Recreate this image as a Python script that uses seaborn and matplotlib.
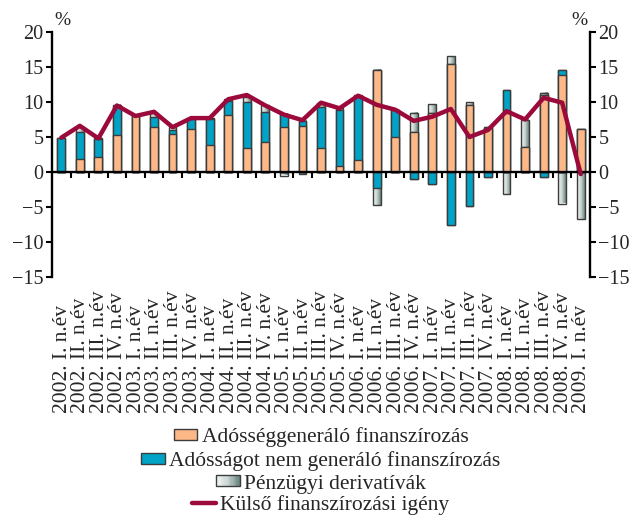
import numpy as np
import pandas as pd
import matplotlib
matplotlib.use("Agg")
import matplotlib.pyplot as plt
import matplotlib.transforms as mtransforms
from matplotlib.patches import Rectangle
from matplotlib.lines import Line2D
from matplotlib.legend_handler import HandlerBase
from matplotlib.colors import LinearSegmentedColormap
import seaborn as sns

# Quarterly categories
negyedevek = [
    "2002. I. n.év", "2002. II. n.év", "2002. III. n.év", "2002. IV. n.év",
    "2003. I. n.év", "2003. II. n.év", "2003. III. n.év", "2003. IV. n.év",
    "2004. I. n.év", "2004. II. n.év", "2004. III. n.év", "2004. IV. n.év",
    "2005. I. n.év", "2005. II. n.év", "2005. III. n.év", "2005. IV. n.év",
    "2006. I. n.év", "2006. II. n.év", "2006. III. n.év", "2006. IV. n.év",
    "2007. I. n.év", "2007. II. n.év", "2007. III. n.év", "2007. IV. n.év",
    "2008. I. n.év", "2008. II. n.év", "2008. III. n.év", "2008. IV. n.év",
    "2009. I. n.év",
]

# Components of financing (% of GDP)
adossaggeneralo = [0.0, 1.9, 2.1, 5.3, 8.0, 6.4, 5.5, 6.1, 3.9, 8.2, 3.5, 4.3,
                   6.4, 6.6, 3.5, 0.9, 1.7, 14.6, 5.0, 5.7, 8.4, 15.4, 9.6, 6.3,
                   8.5, 3.6, 11.0, 13.8, 6.1]
nem_generalo = [4.8, 3.8, 2.6, 4.0, 0.0, 1.5, 0.5, 1.5, 3.7, 2.0, 6.5, 4.3,
                1.9, 0.7, 5.8, 8.0, 9.2, -2.3, 3.9, -1.0, -1.7, -7.6, -4.9, -0.7,
                3.2, 0.0, -0.7, 0.7, 0.0]
derivativak = [0.0, 0.8, 0.2, 0.3, 0.0, 0.6, 0.4, 0.1, 0.1, 0.2, 0.7, 0.9,
               -0.5, -0.3, 0.6, 0.2, 0.1, -2.4, 0.0, 2.8, 1.3, 1.1, 0.4, 0.2,
               -3.1, 3.9, 0.3, -4.5, -6.7]
kulso_igeny = [4.9, 6.6, 4.8, 9.5, 8.0, 8.6, 6.4, 7.7, 7.7, 10.4, 11.0, 9.5,
               8.2, 7.4, 9.9, 9.1, 10.9, 9.6, 8.9, 7.3, 7.9, 9.0, 5.0, 6.0,
               8.7, 7.5, 10.6, 9.9, -0.3]

ORANGE = "#FDB888"
BLUE = "#00A2C6"
LINE = "#9B0A3B"
EDGE = "#3C3C3C"
grad_cmap = LinearSegmentedColormap.from_list("deriv", ["#F4F7F6", "#C9D4D2", "#6A8580"])

sns.set_style("white")
plt.rcParams["font.family"] = ["Liberation Serif", "DejaVu Serif"]
plt.rcParams["axes.unicode_minus"] = True

o = np.clip(np.array(adossaggeneralo), 0, None)
b = np.array(nem_generalo)
g = np.array(derivativak)
bp, bn = np.clip(b, 0, None), np.clip(b, None, 0)
gp, gn = np.clip(g, 0, None), np.clip(g, None, 0)

df = pd.DataFrame({
    "q": negyedevek,
    "grey_pos": o + bp + gp,
    "blue_pos": o + bp,
    "orange": o,
    "grey_neg": bn + gn,
    "blue_neg": bn,
})

fig = plt.figure(figsize=(6.37, 5.16), dpi=100)
ax = fig.add_axes([52 / 637, 1 - 277 / 516, (590 - 52) / 637, 245 / 516])

W = 0.42
common = dict(data=df, x="q", order=negyedevek, width=W, errorbar=None,
              saturation=1, edgecolor=EDGE, linewidth=1.0, ax=ax)

# Derivative layers drawn first (outline only, gradient fill added below)
grey_patches = []
for col in ["grey_pos", "grey_neg"]:
    n0 = len(ax.patches)
    sns.barplot(y=col, color="#BBBBBB", zorder=3, **common)
    grey_patches += ax.patches[n0:]
for p in grey_patches:
    p.set_facecolor("none")
    h = p.get_height()
    if abs(h) > 1e-9:
        x0 = p.get_x()
        y0 = p.get_y()
        grad = np.linspace(0, 1, 64).reshape(1, -1)
        ax.imshow(grad, cmap=grad_cmap, aspect="auto", interpolation="bilinear",
                  extent=[x0, x0 + p.get_width(), min(y0, y0 + h), max(y0, y0 + h)],
                  zorder=2.5)

sns.barplot(y="blue_pos", color=BLUE, zorder=4, **common)
sns.barplot(y="blue_neg", color=BLUE, zorder=4, **common)
sns.barplot(y="orange", color=ORANGE, zorder=5, **common)

sns.lineplot(x=np.arange(len(negyedevek)), y=kulso_igeny, color=LINE, lw=3.2,
             sort=False, ax=ax, zorder=6)

ax.set_xlim(-0.5, len(negyedevek) - 0.5)
ax.set_ylim(-15, 20)
ax.set_xlabel("")
ax.set_ylabel("")

# Axes: zero line with ticks between quarters, y axis on both sides
for s in ["left", "right", "bottom"]:
    ax.spines[s].set_visible(True)
    ax.spines[s].set_color("black")
    ax.spines[s].set_linewidth(1.7)
ax.spines["top"].set_visible(False)
ax.spines["bottom"].set_position(("data", 0))
ax.spines["bottom"].set_zorder(5.5)

ax.set_xticks(np.arange(0.5, len(negyedevek) - 1, 1))
ax.set_xticklabels([])
ax.tick_params(axis="x", bottom=True, direction="out", length=4, width=1.5,
               color="black", labelbottom=False)
ax.set_yticks(np.arange(-15, 21, 5))
ax.tick_params(axis="y", left=True, right=True, labelleft=True, labelright=True,
               direction="out", length=4, width=1.5, color="black",
               labelsize=14.5, pad=2)

ax.text(0.004, 1.012, "%", transform=ax.transAxes, ha="left", va="bottom", fontsize=14)
ax.text(0.996, 1.012, "%", transform=ax.transAxes, ha="right", va="bottom", fontsize=14)

# Quarter labels, read bottom-to-top, starts aligned on a common baseline
trans = mtransforms.blended_transform_factory(ax.transData, ax.transAxes)
for i, lab in enumerate(negyedevek):
    ax.text(i + 0.05, -0.557, lab, transform=trans, rotation=90, ha="center",
            va="bottom", fontsize=15.5)


class GradientHandler(HandlerBase):
    def create_artists(self, legend, orig_handle, xdescent, ydescent, width,
                       height, fontsize, trans):
        arts = []
        n = 20
        for k in range(n):
            arts.append(Rectangle((-xdescent + width * k / n, -ydescent), width / n,
                                  height, facecolor=grad_cmap(k / (n - 1)),
                                  edgecolor="none", transform=trans))
        arts.append(Rectangle((-xdescent, -ydescent), width, height,
                              facecolor="none", edgecolor=EDGE, lw=1.0,
                              transform=trans))
        return arts


deriv_handle = Rectangle((0, 0), 1, 1)
entries = [
    (Rectangle((0, 0), 1, 1, facecolor=ORANGE, edgecolor=EDGE, lw=1.0),
     "Adósséggeneráló finanszírozás", 437),
    (Rectangle((0, 0), 1, 1, facecolor=BLUE, edgecolor=EDGE, lw=1.0),
     "Adósságot nem generáló finanszírozás", 461),
    (deriv_handle, "Pénzügyi derivatívák", 484),
    (Line2D([], [], color=LINE, lw=3.2), "Külső finanszírozási igény", 505),
]
for handle, text, ypix in entries:
    fig.legend(handles=[handle], labels=[text], loc="center",
               bbox_to_anchor=(321 / 637, 1 - ypix / 516), frameon=False,
               fontsize=15.5, handlelength=1.1, handleheight=0.4,
               handletextpad=0.2, borderpad=0, borderaxespad=0,
               handler_map={deriv_handle: GradientHandler()})

fig.savefig("out.png", dpi=100)
